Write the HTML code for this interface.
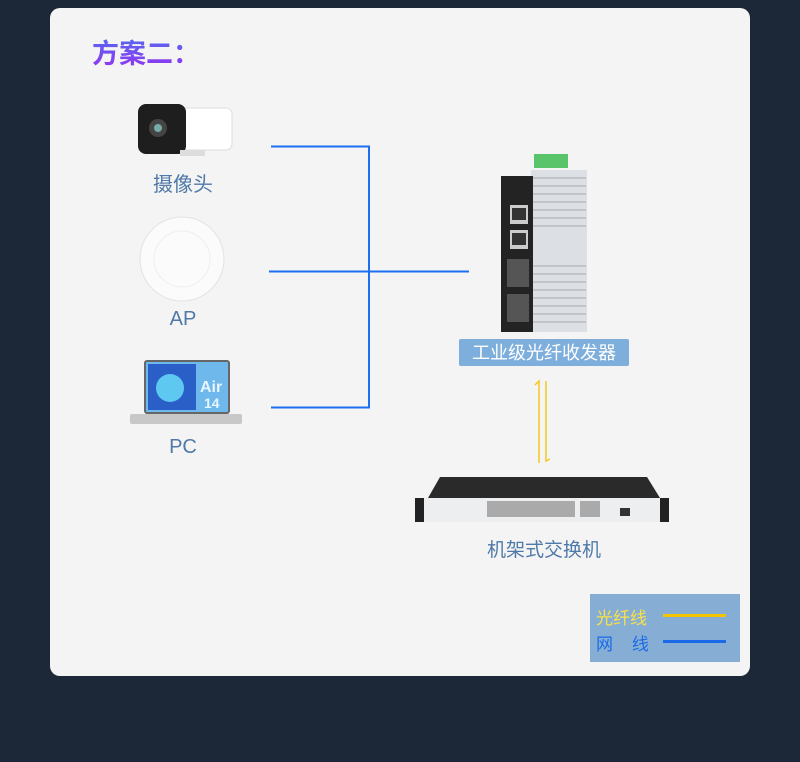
<!DOCTYPE html>
<html><head><meta charset="utf-8"><style>
body{margin:0;width:800px;height:762px;background:#1c2838;position:relative;overflow:hidden;font-family:"Liberation Sans","Noto Sans CJK SC",sans-serif}
.card{position:absolute;left:50px;top:8px;width:700px;height:668px;background:#f4f4f4;border-radius:10px}
.a{position:absolute}
.lbl{position:absolute;color:#4f79a8;font-size:20px;text-align:center;width:120px}
</style></head><body>
<div class="card"></div>
<div class="a" style="left:92px;top:32px;font-size:27px;font-weight:bold;background:linear-gradient(180deg,#4a72f0,#9a2ff0);-webkit-background-clip:text;color:transparent;">方案二：</div>

<svg class="a" style="left:0;top:0" width="800" height="762">
<!-- camera -->
<rect x="150" y="108" width="82" height="42" rx="6" fill="#fff" stroke="#ddd"/>
<rect x="138" y="104" width="48" height="50" rx="8" fill="#1e1e1e"/>
<circle cx="158" cy="128" r="9" fill="#444"/><circle cx="158" cy="128" r="4" fill="#7aa"/>
<rect x="180" y="150" width="25" height="6" fill="#ddd"/>
<!-- AP -->
<circle cx="182" cy="259" r="42" fill="#fbfbfb" stroke="#e2e2e2"/>
<circle cx="182" cy="259" r="28" fill="none" stroke="#eee"/>
<!-- laptop -->
<rect x="145" y="361" width="84" height="52" rx="2" fill="#6fb8ec" stroke="#666" stroke-width="2"/>
<rect x="148" y="364" width="48" height="46" fill="#2b5fc8"/>
<circle cx="170" cy="388" r="14" fill="#5fc8f0"/>
<text x="200" y="392" font-size="16" font-weight="bold" fill="#e8f6ff" font-family="Liberation Sans">Air</text>
<text x="204" y="408" font-size="14" font-weight="bold" fill="#e8f6ff" font-family="Liberation Sans">14</text>
<rect x="130" y="414" width="112" height="10" rx="2" fill="#c8c8c8"/>
<!-- network lines -->
<g stroke="#1b6ff0" stroke-width="2" fill="none">
<path d="M271 146.5H369V407.5H271"/><path d="M269 271.5H469"/>
</g>
<!-- fiber lines -->
<g stroke="#f4c821" stroke-width="1.5" fill="none">
<path d="M535 385l4-4V463"/><path d="M546 381V461l4-2"/>
</g>
<!-- converter -->
<rect x="534" y="154" width="34" height="14" fill="#5ac46a"/>
<rect x="531" y="170" width="56" height="162" fill="#dcdfe3"/>
<g stroke="#b8bcc2" stroke-width="1.5">
<line x1="533" y1="178" x2="586" y2="178"/><line x1="533" y1="186" x2="586" y2="186"/><line x1="533" y1="194" x2="586" y2="194"/><line x1="533" y1="202" x2="586" y2="202"/><line x1="533" y1="210" x2="586" y2="210"/><line x1="533" y1="218" x2="586" y2="218"/><line x1="533" y1="226" x2="586" y2="226"/>
<line x1="533" y1="266" x2="586" y2="266"/><line x1="533" y1="274" x2="586" y2="274"/><line x1="533" y1="282" x2="586" y2="282"/><line x1="533" y1="290" x2="586" y2="290"/><line x1="533" y1="298" x2="586" y2="298"/><line x1="533" y1="306" x2="586" y2="306"/><line x1="533" y1="314" x2="586" y2="314"/><line x1="533" y1="322" x2="586" y2="322"/>
</g>
<rect x="501" y="176" width="32" height="156" fill="#232323"/>
<rect x="510" y="205" width="18" height="19" fill="#ccc"/><rect x="512" y="208" width="14" height="12" fill="#333"/>
<rect x="510" y="230" width="18" height="19" fill="#ccc"/><rect x="512" y="233" width="14" height="12" fill="#333"/>
<rect x="507" y="259" width="22" height="28" fill="#555"/><rect x="507" y="294" width="22" height="28" fill="#555"/>
<rect x="459" y="339" width="170" height="27" rx="2" fill="#7eaedc"/>
<text x="544" y="359" font-size="18" fill="#fff" text-anchor="middle" font-family="Noto Sans CJK SC">工业级光纤收发器</text>
<!-- rack switch -->
<path d="M428 498L440 477H647L660 498Z" fill="#2a2a2a"/>
<rect x="415" y="498" width="254" height="24" fill="#222"/>
<rect x="424" y="498" width="236" height="24" fill="#eceef0"/>
<g fill="#aaa">
<rect x="487" y="501" width="88" height="16"/><rect x="580" y="501" width="20" height="16"/>
</g>
<rect x="620" y="508" width="10" height="8" fill="#333"/>
</svg>

<div class="lbl" style="left:123px;top:168px">摄像头</div>
<div class="lbl" style="left:123px;top:308px">AP</div>
<div class="lbl" style="left:123px;top:436px">PC</div>
<div class="lbl" style="left:484px;top:535px;width:120px;font-size:19px">机架式交换机</div>

<div class="a" style="left:590px;top:594px;width:150px;height:68px;background:#86aed4"></div>
<div class="a" style="left:596px;top:604px;font-size:17px;color:#f8e04a">光纤线</div>
<div class="a" style="left:663px;top:614px;width:63px;height:3px;background:#f5c400"></div>
<div class="a" style="left:596px;top:630px;font-size:17px;color:#1a6ae8;letter-spacing:0">网&nbsp;&nbsp;&nbsp;&nbsp;线</div>
<div class="a" style="left:663px;top:640px;width:63px;height:3px;background:#1a6ae8"></div>
</body></html>
